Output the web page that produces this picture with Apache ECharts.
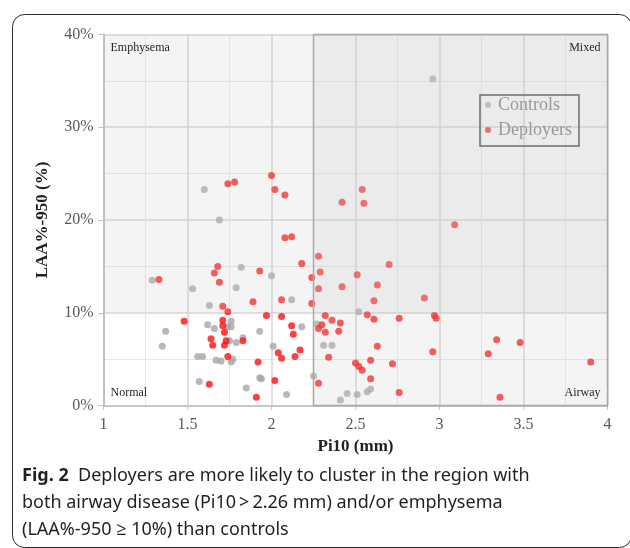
<!DOCTYPE html>
<html>
<head>
<meta charset="utf-8">
<script src="https://cdn.jsdelivr.net/npm/echarts@6/dist/echarts.min.js"></script>
<style>
html,body{margin:0;padding:0;background:#fff;}
#chart{width:630px;height:548px;}
</style>
</head>
<body>
<div id="chart"></div>
<script>
// Controls: Pi10 (mm) and LAA%-950 (%)
const controlsPi10 = [2.96,1.60,1.69,1.82,2.00,1.29,1.53,1.79,1.63,2.12,2.52,1.76,1.62,1.66,1.74,1.76,1.37,2.18,2.27,1.93,1.83,1.79,1.75,1.35,2.01,2.31,2.36,1.56,1.59,1.67,1.70,1.77,1.76,1.93,1.94,1.57,1.85,2.09,2.25,2.45,2.51,2.41,2.57,2.59];
const controlsLAA  = [35.2,23.3,20.0,14.9,14.0,13.5,12.6,12.7,10.8,11.4,10.1,9.1,8.7,8.3,8.5,8.5,8.0,8.5,8.8,8.0,7.3,6.8,7.0,6.4,6.4,6.5,6.5,5.3,5.3,4.9,4.8,5.0,4.7,3.0,2.9,2.6,1.9,1.2,3.2,1.3,1.2,0.6,1.5,1.8];
// Deployers
const deployersPi10 = [2.00,1.74,1.78,2.02,2.08,2.08,2.12,2.18,2.24,1.68,1.66,1.69,1.93,1.33,2.06,1.89,1.71,1.74,2.24,2.54,2.42,2.55,3.09,2.28,2.70,2.29,2.51,2.63,2.28,2.42,2.61,2.91,
  1.97,2.06,1.48,1.71,1.71,2.12,1.72,2.13,1.64,1.73,1.83,1.65,1.72,2.17,2.04,2.06,2.14,1.74,1.92,2.02,1.63,1.91,2.28,2.32,2.57,2.61,2.76,2.97,2.98,2.36,2.41,2.30,2.28,2.32,2.40,2.63,3.34,3.48,2.96,3.29,2.34,2.59,2.50,2.52,2.54,2.72,3.90,2.59,2.76,3.36];
const deployersLAA  = [24.8,23.9,24.1,23.3,22.7,18.1,18.2,15.3,13.8,15.0,14.3,13.3,14.5,13.6,11.4,11.2,10.7,10.1,11.0,23.3,21.9,21.8,19.5,16.1,15.2,14.4,14.1,13.0,12.6,12.8,11.3,11.6,
  9.7,9.6,9.1,9.2,8.6,8.6,7.9,7.7,7.2,7.0,7.0,6.5,6.5,6.0,5.7,5.1,5.3,5.3,4.7,2.7,2.3,0.9,2.4,9.7,9.8,9.3,9.4,9.7,9.4,9.2,8.9,8.7,8.3,7.9,8.0,6.4,7.1,6.8,5.8,5.6,5.2,4.9,4.6,4.2,3.8,4.5,4.7,2.9,1.4,0.9];
// Axis ticks
const xTicks = [1, 1.5, 2, 2.5, 3, 3.5, 4];
const yTicks = [0, 10, 20, 30, 40];
// Thresholds
const pi10Cut = 2.25;
const laaCut = 10;
const regionNames = ['Emphysema', 'Mixed', 'Normal', 'Airway'];
const seriesNames = ['Controls', 'Deployers'];

const serif = '"Liberation Serif", "DejaVu Serif", serif';
const sans = '"Noto Sans", "Open Sans", sans-serif';

function pairs(xs, ys) { return xs.map((x, i) => [x, ys[i]]); }

const xMin = xTicks[0], xMax = xTicks[xTicks.length - 1];
const yMin = yTicks[0], yMax = yTicks[yTicks.length - 1];

const chart = echarts.init(document.getElementById('chart'), null, {renderer: 'canvas'});
const labelBase = {show: true, fontFamily: serif, fontSize: 12, color: '#262626', distance: 7};
chart.setOption({
  animation: false,
  backgroundColor: '#fff',
  grid: {left: 103.5, right: 22.5, top: 34.4, bottom: 142.4, containLabel: false},
  legend: {
    data: seriesNames,
    orient: 'vertical',
    left: 480, top: 95,
    padding: [1, 7, 7, 5],
    itemGap: 7,
    itemWidth: 10, itemHeight: 6,
    icon: 'circle',
    borderColor: '#3a3a3a', borderWidth: 1.5,
    textStyle: {fontFamily: serif, fontSize: 18, color: '#808080'}
  },
  xAxis: {
    type: 'value', min: xMin, max: xMax, interval: 0.5,
    name: 'Pi10 (mm)', nameLocation: 'middle', nameGap: 33,
    nameTextStyle: {fontFamily: serif, fontSize: 17, fontWeight: 'bold', color: '#222'},
    axisLine: {show: true, lineStyle: {color: '#bfbfbf', width: 1.5}},
    axisTick: {show: true, length: 4, lineStyle: {color: '#bfbfbf'}},
    axisLabel: {fontFamily: serif, fontSize: 16, color: '#595959', margin: 11},
    splitLine: {show: true, lineStyle: {color: '#d6d6d6', width: 1.5}},
    minorTick: {show: false, splitNumber: 2},
    minorSplitLine: {show: true, lineStyle: {color: '#e8e8e8', width: 1}}
  },
  yAxis: {
    type: 'value', min: yMin, max: yMax, interval: 10,
    name: 'LAA%-950 (%)', nameLocation: 'middle', nameGap: 52, nameRotate: 90,
    nameTextStyle: {fontFamily: serif, fontSize: 17, fontWeight: 'bold', color: '#222'},
    axisLine: {show: true, lineStyle: {color: '#bfbfbf', width: 2}},
    axisTick: {show: true, length: 5, lineStyle: {color: '#bfbfbf'}},
    axisLabel: {fontFamily: serif, fontSize: 16, color: '#595959', margin: 10, formatter: v => v + '%'},
    splitLine: {show: true, lineStyle: {color: '#d6d6d6', width: 1.5}},
    minorTick: {show: false, splitNumber: 2},
    minorSplitLine: {show: true, lineStyle: {color: '#e8e8e8', width: 1}}
  },
  series: [
    {
      name: seriesNames[0], type: 'scatter', z: 2,
      symbolSize: 7,
      itemStyle: {color: '#a6a6a6'},
      data: pairs(controlsPi10, controlsLAA)
    },
    {
      name: seriesNames[1], type: 'scatter', z: 2,
      symbolSize: 7,
      itemStyle: {color: '#ff1010'},
      data: pairs(deployersPi10, deployersLAA)
    },
    {
      name: 'regions', type: 'scatter', z: 5, data: [], silent: true,
      markArea: {
        silent: true, z: 5,
        data: [
          [{name: regionNames[0], xAxis: xMin, yAxis: yMax, itemStyle: {color: 'rgba(200,200,200,0.2)'},
            label: Object.assign({}, labelBase, {position: 'insideTopLeft'})}, {xAxis: pi10Cut, yAxis: laaCut}],
          [{name: regionNames[1], xAxis: pi10Cut, yAxis: yMax, itemStyle: {color: 'rgba(200,200,200,0.36)'},
            label: Object.assign({}, labelBase, {position: 'insideTopRight'})}, {xAxis: xMax, yAxis: laaCut}],
          [{name: regionNames[2], xAxis: xMin, yAxis: laaCut, itemStyle: {color: 'rgba(255,255,255,0)'},
            label: Object.assign({}, labelBase, {position: 'insideBottomLeft'})}, {xAxis: pi10Cut, yAxis: yMin}],
          [{name: regionNames[3], xAxis: pi10Cut, yAxis: laaCut, itemStyle: {color: 'rgba(200,200,200,0.2)'},
            label: Object.assign({}, labelBase, {position: 'insideBottomRight'})}, {xAxis: xMax, yAxis: yMin}],
          [{name: '', xAxis: pi10Cut, yAxis: yMax, itemStyle: {color: 'rgba(0,0,0,0)', borderColor: '#a8a8a8', borderWidth: 1.5},
            label: {show: false}}, {xAxis: xMax, yAxis: yMin}]
        ]
      }
    }
  ],
  graphic: [
    {
      type: 'rect', left: 10, top: 12, z: 100, silent: true,
      shape: {width: 619, height: 533, r: 12},
      style: {fill: 'none', stroke: '#2b2b2b', lineWidth: 1}
    },
    {
      type: 'text', left: 22, top: 462, z: 100,
      style: {
        text: '{b|Fig. 2}  Deployers are more likely to cluster in the region with\nboth airway disease (Pi10\u2009>\u20092.26 mm) and/or emphysema\n(LAA%-950 \u2265 10%) than controls',
        fontFamily: sans, fontSize: 18, lineHeight: 27, fill: '#231f20',
        rich: {b: {fontFamily: sans, fontSize: 18, fontWeight: 'bold', lineHeight: 27, fill: '#231f20'}}
      }
    }
  ]
});
</script>
</body>
</html>
